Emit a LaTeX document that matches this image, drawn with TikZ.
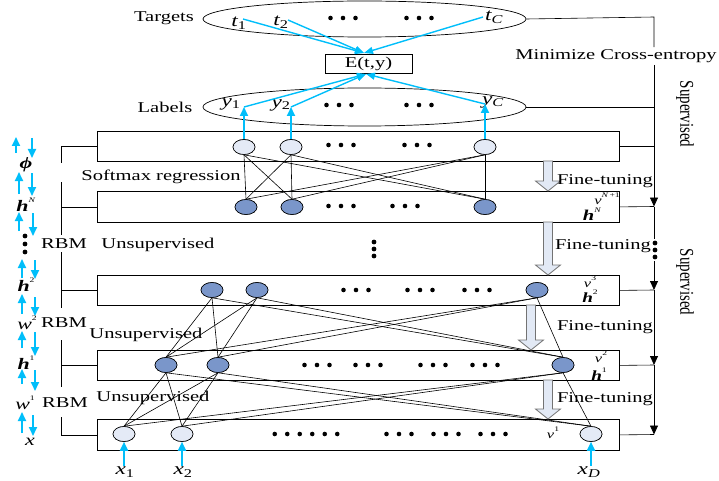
\documentclass[tikz,border=0pt]{standalone}
\usepackage{fontspec}
\usepackage{graphicx}
\setmainfont{Liberation Serif}[FakeStretch=1.37]
\newfontfamily\supfont{Liberation Serif}
\usetikzlibrary{shapes.geometric,arrows.meta}
\definecolor{cyanc}{RGB}{0,190,250}
\definecolor{darkfill}{RGB}{122,150,202}
\definecolor{lightfill}{RGB}{228,234,246}
\definecolor{fatfill}{RGB}{226,233,245}
\newcommand{\dotgrp}[3]{\foreach \k in {1,...,#3} \fill (#1-6.25*#3-6.25+12.5*\k,#2) circle (2.3pt);}
\newcommand{\fatarr}[3]{\draw[fat] (#1-4.5,#2) -- (#1+4.5,#2) -- (#1+4.5,#3-10) -- (#1+12.5,#3-10) -- (#1,#3) -- (#1-12.5,#3-10) -- (#1-4.5,#3-10) -- cycle;}
\newcommand{\sups}[1]{\raisebox{0.55em}{\fontsize{7}{8}\selectfont #1}}
\begin{document}
\begin{tikzpicture}[x=1pt,y=-1pt,
  txt/.style={font=\fontsize{15}{17}\selectfont, inner sep=1pt},
  var/.style={font=\fontsize{17}{19}\selectfont\itshape, inner sep=1pt},
  layer/.style={draw, line width=0.8pt, fill=white, minimum width=522pt, minimum height=30pt, anchor=north west, inner sep=0},
  dnode/.style={ellipse, draw, line width=0.6pt, fill=darkfill, minimum width=22pt, minimum height=15pt, inner sep=0},
  lnode/.style={ellipse, draw, line width=0.6pt, fill=lightfill, minimum width=22pt, minimum height=15pt, inner sep=0},
  conn/.style={line width=0.6pt},
  cyarrow/.style={draw=cyanc, line width=1.8pt, -{Triangle[width=8pt,length=9pt]}},
  cythin/.style={draw=cyanc, line width=1.4pt, -{Triangle[width=7pt,length=9pt]}},
  rarrow/.style={line width=0.8pt, -{Triangle[width=8pt,length=9pt]}},
  fat/.style={draw=black!55, fill=fatfill, line width=0.8pt},
]
\useasboundingbox (0,0) rectangle (719,481);

% ---------- layer boxes ----------
\node[layer] (Ls) at (97,131) {};
\node[layer, minimum height=31pt] (LN) at (97,191) {};
\node[layer] (L2) at (97,275) {};
\node[layer] (L1) at (97,350) {};
\node[layer, minimum height=31pt] (L0) at (97,419) {};

% ---------- top ellipses and E box ----------
\node[ellipse, draw, line width=0.7pt, minimum width=323pt, minimum height=36pt, inner sep=0] (tgt) at (364.5,19) {};
\node[ellipse, draw, line width=0.7pt, minimum width=323pt, minimum height=38pt, inner sep=0] (lbl) at (364.5,107) {};
\node[draw, fill=white, line width=0.8pt, minimum width=87pt, minimum height=19pt, inner sep=0, txt] (E) at (368.5,63.5) {E(t,y)};

\node[txt] (tgtlab) at (164,18) {Targets};
\node[txt] (lbllab) at (165,107) {Labels};

\node[var] (t1) at (239,23) {t\textsubscript{\upshape 1}};
\node[var] (t2) at (281,22) {t\textsubscript{\upshape 2}};
\node[var] (tC) at (494,17) {t\textsubscript{C}};
\node[var] (y1) at (231,104) {y\textsubscript{\upshape 1}};
\node[var] (y2) at (281,105) {y\textsubscript{\upshape 2}};
\node[var] (yC) at (493,102) {y\textsubscript{C}};
\dotgrp{343}{18}{3}
\dotgrp{419}{18}{3}
\dotgrp{339}{105}{3}
\dotgrp{419}{105}{3}

\coordinate (ta) at (243,19);
\coordinate (tb) at (288,20);
\coordinate (tc) at (483,17);
\coordinate (Etop) at (364,53);
\coordinate (Ebot) at (366,74);
\coordinate (ya) at (244,107);
\coordinate (yb) at (291,107);
\coordinate (yc) at (485,104);
\draw[cythin] (ta) -- (Etop);
\draw[cythin] (tb) -- (Etop);
\draw[cythin] (tc) -- (Etop);
\draw[cythin] (ya) -- (Ebot);
\draw[cythin] (yb) -- (Ebot);
\draw[cythin] (yc) -- (Ebot);

% ---------- nodes ----------
\node[lnode] (s1) at (244,147) {};
\node[lnode] (s2) at (291,147) {};
\node[lnode] (s3) at (485,147) {};
\node[dnode] (n1) at (246,207) {};
\node[dnode] (n2) at (292,207) {};
\node[dnode] (n3) at (485,207) {};
\node[dnode] (a1) at (212,290) {};
\node[dnode] (a2) at (257,290) {};
\node[dnode] (a3) at (537,290) {};
\node[dnode] (b1) at (166,365) {};
\node[dnode] (b2) at (218,365) {};
\node[dnode] (b3) at (563,365) {};
\node[lnode] (c1) at (124,434) {};
\node[lnode] (c2) at (182,434) {};
\node[lnode] (c3) at (591,434) {};

% ---------- connections ----------
\foreach \u in {s1,s2,s3} \foreach \v in {n1,n2,n3} \draw[conn] (\u.south) -- (\v.north);
\foreach \u in {a1,a2,a3} \foreach \v in {b1,b2,b3} \draw[conn] (\u.south) -- (\v.north);
\foreach \u in {b1,b2,b3} \foreach \v in {c1,c2,c3} \draw[conn] (\u.south) -- (\v.north);
% redraw nodes on top
\foreach \p/\s in {s1/lnode,s2/lnode,s3/lnode,n1/dnode,n2/dnode,n3/dnode,a1/dnode,a2/dnode,a3/dnode,b1/dnode,b2/dnode,b3/dnode,c1/lnode,c2/lnode,c3/lnode}
  \node[\s] at (\p) {};

\draw[cyarrow] (s1.north) -- (ya);
\draw[cyarrow] (s2.north) -- (yb);
\draw[cyarrow] (s3.north) -- (yc);

% dots inside layers
\dotgrp{341}{145}{3}
\dotgrp{417}{145}{3}
\dotgrp{341}{206}{3}
\dotgrp{405}{206}{3}
\dotgrp{356}{290}{3}
\dotgrp{420}{290}{3}
\dotgrp{477}{290}{3}
\dotgrp{317}{365}{3}
\dotgrp{368}{365}{3}
\dotgrp{433}{365}{3}
\dotgrp{485}{365}{3}
\dotgrp{306}{434}{6}
\dotgrp{399}{434}{3}
\dotgrp{446}{434}{3}
\dotgrp{493}{434}{3}
\foreach \yy in {242,249,256} \fill (374,\yy) circle (2.4pt);

% layer labels
\node[txt, font=\fontsize{12}{14}\selectfont] (vN) at (607,199) {\textit{v}\sups{\textit{N}\,+1}};
\node[txt, font=\fontsize{15}{17}\selectfont] (hN) at (592,214) {\textbf{\textit{h}}\sups{\textit{N}}};
\node[txt, font=\fontsize{12}{14}\selectfont] (v3) at (590,282) {\textit{v}\sups{3}};
\node[txt, font=\fontsize{14}{16}\selectfont] (h2) at (590,296) {\textbf{\textit{h}}\sups{2}};
\node[txt, font=\fontsize{12}{14}\selectfont] (v2) at (601,357) {\textit{v}\sups{2}};
\node[txt, font=\fontsize{14}{16}\selectfont] (h1) at (599,374) {\textbf{\textit{h}}\sups{1}};
\node[txt, font=\fontsize{12}{14}\selectfont] (v1) at (553,433) {\textit{v}\sups{1}};

% bottom inputs
\node[var] (x1) at (125,472) {x\textsubscript{\upshape 1}};
\node[var] (x2) at (183,472) {x\textsubscript{\upshape 2}};
\node[var] (xD) at (589,472) {x\textsubscript{D}};
\draw[cyarrow] (x1.north -| c1.south) -- (c1.south);
\draw[cyarrow] (x2.north -| c2.south) -- (c2.south);
\draw[cyarrow] (xD.north -| c3.south) -- (c3.south);

% fat arrows and fine-tuning
\fatarr{548}{161}{191}
\fatarr{548}{222}{275}
\fatarr{531}{305}{350}
\fatarr{548}{380}{419}
\node[txt] (ft1) at (605,181) {Fine-tuning};
\node[txt] (ft2) at (603,246) {Fine-tuning};
\node[txt] (ft3) at (605,327) {Fine-tuning};
\node[txt] (ft4) at (605,399) {Fine-tuning};

% middle texts
\node[txt] (soft) at (161,177) {Softmax regression};
\node[txt] (uns1) at (158,245) {Unsupervised};
\node[txt] (uns2) at (146,335) {Unsupervised};
\node[txt] (uns3) at (153,398) {Unsupervised};
\node[txt] (rbm1) at (64,244) {RBM};
\node[txt] (rbm2) at (64,323) {RBM};
\node[txt] (rbm3) at (65,403) {RBM};

% ---------- right supervised line ----------
\coordinate (R0) at (654,17);
\coordinate (R1) at (654,206.5);
\coordinate (R2) at (654,290);
\coordinate (R3) at (654,365);
\coordinate (R4) at (654,434.5);
\node[txt, inner sep=2pt] (mce) at (616,56) {Minimize Cross-entropy};
\draw[conn] (tgt.east) -- (R0) -- (mce.north -| R0);
\draw[rarrow] (mce.south -| R0) -- (R1);
\draw[conn] (lbl.east) -- (lbl.east -| R0);
\draw[conn] (Ls.east) -- (Ls.east -| R0);
\draw[conn] (LN.east) -- (R1);
\node[inner sep=0, minimum width=6pt, minimum height=22pt] (rdots) at (655,250) {};
\foreach \yy in {243,250,257} \fill (655,\yy) circle (2.4pt);
\draw[conn] (R1) -- (rdots.north -| R1);
\draw[rarrow] (rdots.south -| R1) -- (R2);
\draw[conn] (L2.east) -- (R2);
\draw[rarrow] (R2) -- (R3);
\draw[conn] (L1.east) -- (R3);
\draw[rarrow] (R3) -- (R4);
\draw[conn] (L0.east) -- (R4);
\node[rotate=-90, inner sep=0, font=\supfont\fontsize{15}{17}\selectfont] (sup1) at (685,114) {\scalebox{1}[1.3]{Supervised}};
\node[rotate=-90, inner sep=0, font=\supfont\fontsize{15}{17}\selectfont] (sup2) at (685,282) {\scalebox{1}[1.3]{Supervised}};

% ---------- left bracket ----------
\coordinate (B) at (61,0);
\coordinate (b1) at (61,163);
\coordinate (b2t) at (61,182);
\coordinate (b2b) at (61,235);
\coordinate (b3t) at (61,252);
\coordinate (b3b) at (61,308);
\coordinate (b4t) at (61,340);
\coordinate (b4b) at (61,387);
\coordinate (b5) at (61,417);
\draw[conn] (Ls.west) -- (Ls.west -| B) -- (b1);
\draw[conn] (b2t) -- (b2b);
\draw[conn] (LN.west) -- (LN.west -| B);
\draw[conn] (b3t) -- (b3b);
\draw[conn] (L2.west) -- (L2.west -| B);
\draw[conn] (b4t) -- (b4b);
\draw[conn] (L1.west) -- (L1.west -| B);
\draw[conn] (L0.west) -- (L0.west -| B) -- (b5);

% ---------- left column ----------
\draw[cyarrow] (16,153) -- (16,137);
\draw[cyarrow] (32,138) -- (32,158);
\draw[cyarrow] (19,194) -- (19,172);
\draw[cyarrow] (32,173) -- (32,196);
\draw[cyarrow] (19,231) -- (19,212);
\draw[cyarrow] (33,213) -- (33,236);
\draw[cyarrow] (22,278) -- (22,259);
\draw[cyarrow] (35,260) -- (35,279);
\draw[cyarrow] (22,314) -- (22,294);
\draw[cyarrow] (35,297) -- (35,316);
\draw[cyarrow] (22,348) -- (22,331);
\draw[cyarrow] (35,332) -- (35,356);
\draw[cyarrow] (22,384) -- (22,369);
\draw[cyarrow] (35,370) -- (35,391);
\draw[cyarrow] (22,433) -- (22,412);
\draw[cyarrow] (33,415) -- (33,436);

\node[txt, font=\fontsize{16}{18}\selectfont] (phi) at (26,165) {\textbf{\textit{ϕ}}};
\node[txt, font=\fontsize{16}{18}\selectfont] (lhN) at (26,205) {\textbf{\textit{h}}\sups{\textit{N}}};
\foreach \yy in {236,244,252} \fill (25,\yy) circle (2.4pt);
\node[txt, font=\fontsize{16}{18}\selectfont] (lh2) at (26,285) {\textbf{\textit{h}}\sups{2}};
\node[txt, font=\fontsize{16}{18}\selectfont] (lw2) at (27,323) {\textit{w}\sups{2}};
\node[txt, font=\fontsize{16}{18}\selectfont] (lh1) at (26,363) {\textbf{\textit{h}}\sups{1}};
\node[txt, font=\fontsize{16}{18}\selectfont] (lw1) at (25,403) {\textit{w}\sups{1}};
\node[txt, font=\fontsize{16}{18}\selectfont] (lx) at (30,442) {\textit{x}};
\end{tikzpicture}
\end{document}
